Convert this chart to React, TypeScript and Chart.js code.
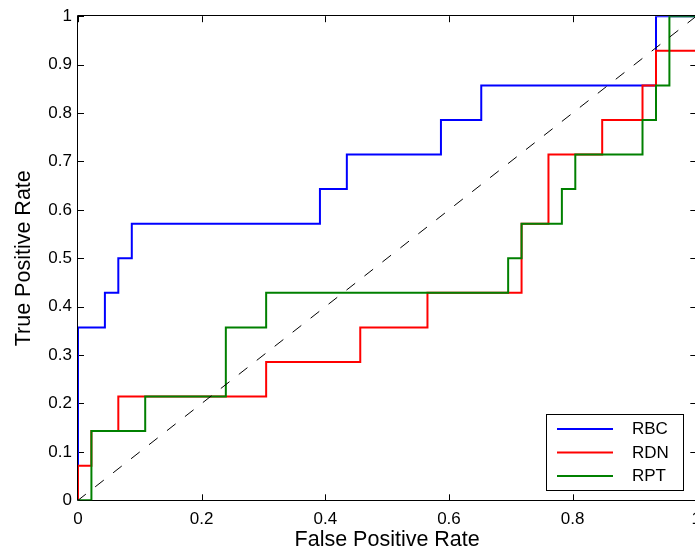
import React, { useEffect, useRef } from "react";
import { Chart, registerables } from "chart.js";

Chart.register(...registerables);

// ROC vertices (false positive rate, true positive rate) for each classifier
const rbcFpr = [0, 0, 0.0435, 0.0435, 0.0652, 0.0652, 0.087, 0.087, 0.3913, 0.3913, 0.4348, 0.4348, 0.587, 0.587, 0.6522, 0.6522, 0.9348, 0.9348, 1];
const rbcTpr = [0, 0.3571, 0.3571, 0.4286, 0.4286, 0.5, 0.5, 0.5714, 0.5714, 0.6429, 0.6429, 0.7143, 0.7143, 0.7857, 0.7857, 0.8571, 0.8571, 1, 1];

const rdnFpr = [0, 0, 0.0217, 0.0217, 0.0652, 0.0652, 0.3043, 0.3043, 0.4565, 0.4565, 0.5652, 0.5652, 0.7174, 0.7174, 0.7609, 0.7609, 0.8478, 0.8478, 0.913, 0.913, 0.9348, 0.9348, 1, 1];
const rdnTpr = [0, 0.0714, 0.0714, 0.1429, 0.1429, 0.2143, 0.2143, 0.2857, 0.2857, 0.3571, 0.3571, 0.4286, 0.4286, 0.5714, 0.5714, 0.7143, 0.7143, 0.7857, 0.7857, 0.8571, 0.8571, 0.9286, 0.9286, 1];

const rptFpr = [0, 0.0217, 0.0217, 0.1087, 0.1087, 0.2391, 0.2391, 0.3043, 0.3043, 0.6957, 0.6957, 0.7174, 0.7174, 0.7826, 0.7826, 0.8043, 0.8043, 0.913, 0.913, 0.9348, 0.9348, 0.9565, 0.9565, 1];
const rptTpr = [0, 0, 0.1429, 0.1429, 0.2143, 0.2143, 0.3571, 0.3571, 0.4286, 0.4286, 0.5, 0.5, 0.5714, 0.5714, 0.6429, 0.6429, 0.7143, 0.7143, 0.7857, 0.7857, 0.8571, 0.8571, 1, 1];

// chance line
const chanceFpr = [0, 1];
const chanceTpr = [0, 1];

const seriesNames = ["RBC", "RDN", "RPT"];
const seriesColors = ["#0000ff", "#ff0000", "#008000"];

const xTickStep = 0.2;
const yTickStep = 0.1;
const xTitle = "False Positive Rate";
const yTitle = "True Positive Rate";

const FONT = '"Liberation Sans", Arial, Helvetica, sans-serif';

const toPoints = (xs: number[], ys: number[]) => xs.map((x, i) => ({ x, y: ys[i] }));

// tick labels without trailing zeros: 0, 0.1, ..., 1
const formatTick = (value: number | string) => String(Math.round(Number(value) * 10) / 10);

// Frame around the plot area with inward tick marks on all four sides
const axesBox = {
  id: "axesBox",
  beforeDatasetsDraw(chart: any) {
    const { ctx, chartArea, scales } = chart;
    const { left, right, top, bottom } = chartArea;
    const tick = 6;
    ctx.save();
    ctx.strokeStyle = "#000";
    ctx.lineWidth = 1;
    ctx.beginPath();
    ctx.rect(Math.round(left) - 0.5, Math.round(top) - 0.5, Math.round(right - left) + 1, Math.round(bottom - top) + 1);
    for (const t of scales.x.ticks) {
      const px = Math.round(scales.x.getPixelForValue(t.value)) + 0.5;
      ctx.moveTo(px, bottom);
      ctx.lineTo(px, bottom - tick);
      ctx.moveTo(px, top);
      ctx.lineTo(px, top + tick);
    }
    for (const t of scales.y.ticks) {
      const py = Math.round(scales.y.getPixelForValue(t.value)) + 0.5;
      ctx.moveTo(left, py);
      ctx.lineTo(left + tick, py);
      ctx.moveTo(right, py);
      ctx.lineTo(right - tick, py);
    }
    ctx.stroke();
    ctx.restore();
  },
};

// Boxed legend in the lower right corner of the plot area
const legendBox = {
  id: "legendBox",
  afterDraw(chart: any) {
    const { ctx, chartArea } = chart;
    const w = 137;
    const h = 76;
    const left = Math.round(chartArea.right - 13.3 - w);
    const top = Math.round(chartArea.bottom - 10.3 - h);
    ctx.save();
    ctx.fillStyle = "#fff";
    ctx.fillRect(left, top, w, h);
    ctx.strokeStyle = "#000";
    ctx.lineWidth = 1;
    ctx.strokeRect(left + 0.5, top + 0.5, w, h);
    ctx.font = `17px ${FONT}`;
    ctx.textBaseline = "middle";
    ctx.textAlign = "left";
    seriesNames.forEach((name, i) => {
      const y = top + 15 + i * 23.5;
      ctx.strokeStyle = seriesColors[i];
      ctx.lineWidth = 2;
      ctx.beginPath();
      ctx.moveTo(left + 11, y);
      ctx.lineTo(left + 67, y);
      ctx.stroke();
      ctx.fillStyle = "#000";
      ctx.fillText(name, left + 86, y + 0.7);
    });
    ctx.restore();
  },
};

export default function App() {
  const canvasRef = useRef<HTMLCanvasElement>(null);

  useEffect(() => {
    const canvas = canvasRef.current;
    if (!canvas) return;
    const chart = new Chart(canvas, {
      type: "line",
      data: {
        datasets: [
          {
            label: seriesNames[0],
            data: toPoints(rbcFpr, rbcTpr),
            borderColor: seriesColors[0],
            borderWidth: 2,
            pointRadius: 0,
            fill: false,
            tension: 0,
            order: 2,
          },
          {
            label: seriesNames[1],
            data: toPoints(rdnFpr, rdnTpr),
            borderColor: seriesColors[1],
            borderWidth: 2,
            pointRadius: 0,
            fill: false,
            tension: 0,
            order: 1,
          },
          {
            label: seriesNames[2],
            data: toPoints(rptFpr, rptTpr),
            borderColor: seriesColors[2],
            borderWidth: 2,
            pointRadius: 0,
            fill: false,
            tension: 0,
            order: 0,
          },
          {
            label: "chance",
            data: toPoints(chanceFpr, chanceTpr),
            borderColor: "#000",
            borderWidth: 1,
            borderDash: [11, 11.8],
            borderDashOffset: 1,
            pointRadius: 0,
            fill: false,
            order: -1,
          },
        ],
      },
      options: {
        animation: false,
        responsive: false,
        devicePixelRatio: 1,
        events: [],
        layout: { padding: { left: 0, top: 13.3, right: 23.7, bottom: 0 } },
        plugins: {
          legend: { display: false },
          tooltip: { enabled: false },
        },
        scales: {
          x: {
            type: "linear",
            min: 0,
            max: 1,
            grid: { display: false, drawTicks: false },
            border: { display: false },
            ticks: {
              stepSize: xTickStep,
              padding: 9,
              color: "#000",
              autoSkip: false,
              maxRotation: 0,
              font: { family: FONT, size: 17 },
              callback: formatTick,
            },
            title: {
              display: true,
              text: xTitle,
              color: "#000",
              font: { family: FONT, size: 21.5 },
              padding: { top: 0, bottom: 4 },
            },
            afterFit: (scale: any) => {
              scale.height = 56.7;
            },
          },
          y: {
            type: "linear",
            min: 0,
            max: 1,
            grid: { display: false, drawTicks: false },
            border: { display: false },
            ticks: {
              stepSize: yTickStep,
              padding: 6,
              color: "#000",
              autoSkip: false,
              font: { family: FONT, size: 17 },
              callback: formatTick,
            },
            title: {
              display: true,
              text: yTitle,
              color: "#000",
              font: { family: FONT, size: 21.5 },
              padding: { top: 11.3, bottom: 0 },
            },
            afterFit: (scale: any) => {
              scale.width = 78;
            },
          },
        },
      },
      plugins: [axesBox, legendBox],
    });
    return () => chart.destroy();
  }, []);

  return (
    <div
      style={{
        position: "fixed",
        left: 0,
        top: 0,
        width: 695,
        height: 557,
        overflow: "hidden",
        background: "#fff",
      }}
    >
      <canvas ref={canvasRef} width={720} height={557} style={{ display: "block", width: 720, height: 557 }} />
    </div>
  );
}
